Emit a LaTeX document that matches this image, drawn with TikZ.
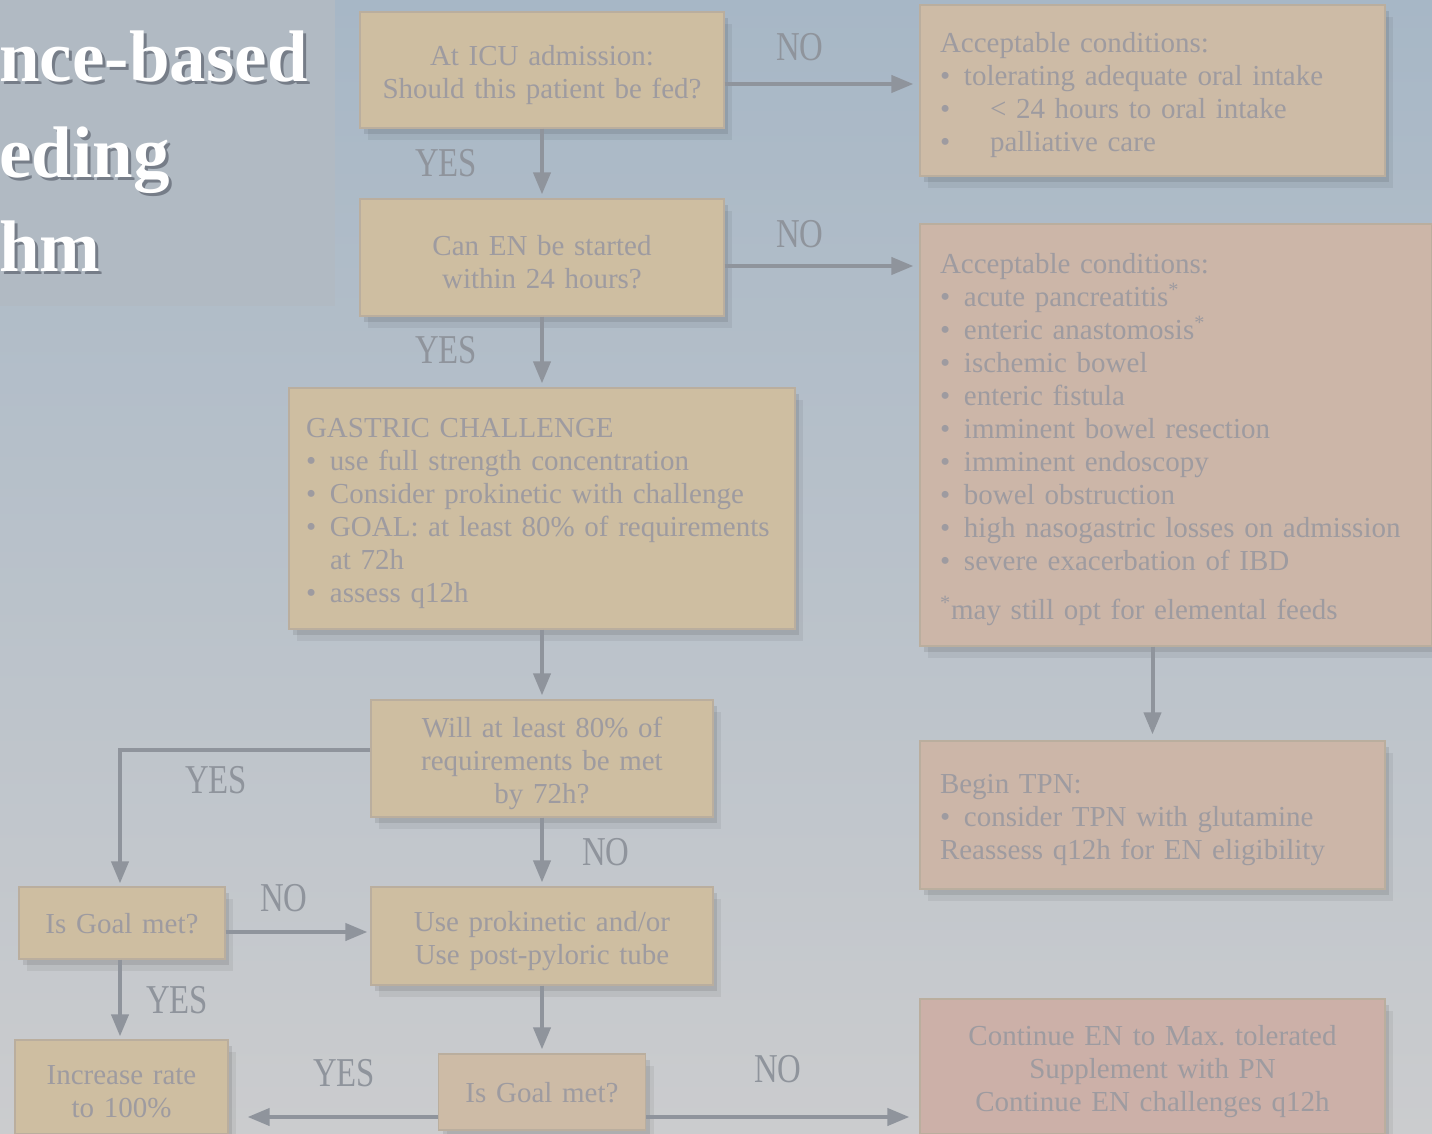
\documentclass[tikz,border=0pt]{standalone}
\usepackage{fontspec}
\setmainfont{Liberation Serif}
\usetikzlibrary{arrows.meta,positioning,calc,shadows}
\definecolor{fondoArriba}{RGB}{167,183,198}
\definecolor{fondoMedio}{RGB}{189,195,203}
\definecolor{fondoAbajo}{RGB}{203,204,206}
\definecolor{panel}{RGB}{177,186,195}
\definecolor{cajaAmarilla}{RGB}{206,190,161}
\definecolor{cajaArena}{RGB}{205,187,166}
\definecolor{cajaRosa}{RGB}{204,182,168}
\definecolor{cajaRoja}{RGB}{204,176,168}
\definecolor{borde}{RGB}{186,174,158}
\definecolor{textoCaja}{RGB}{158,155,160}
\definecolor{gris}{RGB}{143,148,156}
\definecolor{sombraTitulo}{RGB}{70,76,88}
\newcommand{\itm}{\makebox[12pt][l]{\textbullet}}
\newcommand{\lbl}[1]{\scalebox{0.8}[1]{#1}}
\tikzset{
  caja/.style={draw=borde, line width=0.6pt, fill=cajaAmarilla, text=textoCaja,
    font=\fontsize{14.5}{16.5}\selectfont, inner xsep=10pt, inner ysep=0pt,
    execute at end node={\par\kern-5pt},
    drop shadow={shadow xshift=4pt, shadow yshift=-6pt, opacity=0.06, fill=black},
    drop shadow={shadow xshift=2pt, shadow yshift=-3pt, opacity=0.09, fill=black}},
  flecha/.style={draw=gris, line width=2pt, -{Triangle[length=11pt,width=8.5pt]}},
  etiqueta/.style={text=gris, font=\fontsize{20.5}{20.5}\selectfont, inner sep=0pt},
  titulo/.style={text=white, font=\fontsize{36.5}{36.5}\selectfont\bfseries, inner sep=0pt, anchor=base west}
}
\begin{document}
\begin{tikzpicture}[x=0.5pt,y=-0.5pt]
  \useasboundingbox (0,0) rectangle (1432,1134);
  \clip (0,0) rectangle (1432,1134);
  % fondo
  \shade[top color=fondoArriba, middle color=fondoMedio, bottom color=fondoAbajo]
    (0,0) rectangle (1432,1134);
  \fill[panel] (0,0) rectangle (335,306);

  % titulo
  \foreach \t/\y in {nce-based/82,eding/178,hm/272}{
    \node[titulo, text=sombraTitulo, opacity=0.55] at (2,\y+3) {\t};
    \node[titulo] at (-1,\y) {\t};
  }

  % cajas
  \node[caja, minimum width=182pt, minimum height=58pt, text width=162pt, align=center]
    (adm) at (542,70) {At ICU admission:\\Should this patient be fed?};
  \node[caja, fill=cajaArena, minimum width=232.5pt, minimum height=85.5pt, text width=212.5pt, align=left]
    (oral) at (1152.5,90.5) {Acceptable conditions:\\
      \itm tolerating adequate oral intake\\
      \itm\hspace{13pt}< 24 hours to oral intake\\
      \itm\hspace{13pt}palliative care};
  \node[caja, minimum width=182pt, minimum height=58.5pt, text width=162pt, align=center]
    (en24) at (542,257.5) {Can EN be started\\within 24 hours?};
  \node[caja, fill=cajaRosa, minimum width=256pt, minimum height=211pt, text width=236pt, align=left]
    (contra) at (1176,435) {Acceptable conditions:\\
      \itm acute pancreatitis\textsuperscript{*}\\
      \itm enteric anastomosis\textsuperscript{*}\\
      \itm ischemic bowel\\
      \itm enteric fistula\\
      \itm imminent bowel resection\\
      \itm imminent endoscopy\\
      \itm bowel obstruction\\
      \itm high nasogastric losses on admission\\
      \itm severe exacerbation of IBD\\[8pt]
      \textsuperscript{*}may still opt for elemental feeds};
  \node[caja, inner xsep=8.5pt, minimum width=253pt, minimum height=120.5pt, text width=236pt, align=left]
    (reto) at (542,508.5) {GASTRIC CHALLENGE\\
      \itm use full strength concentration\\
      \itm Consider prokinetic with challenge\\
      \itm GOAL: at least 80\% of requirements\\
      \hspace*{12pt}at 72h\\
      \itm assess q12h};
  \node[caja, minimum width=171pt, minimum height=58.5pt, text width=151pt, align=center]
    (meta) at (542,758.5) {Will at least 80\% of\\requirements be met\\by 72h?};
  \node[caja, minimum width=103pt, minimum height=36pt, text width=83pt, align=center]
    (goalA) at (122,923) {Is Goal met?};
  \node[caja, minimum width=171pt, minimum height=49pt, text width=151pt, align=center]
    (proki) at (542,936) {Use prokinetic and/or\\Use post-pyloric tube};
  \node[caja, minimum width=106.5pt, minimum height=47pt, text width=86.5pt, align=center]
    (subir) at (121.5,1087) {Increase rate\\to 100\%};
  \node[caja, fill=cajaArena, minimum width=103.5pt, minimum height=38pt, text width=83.5pt, align=center]
    (goalB) at (542,1092) {Is Goal met?};
  \node[caja, fill=cajaRosa, minimum width=232.5pt, minimum height=74pt, text width=212.5pt, align=left]
    (tpn) at (1152.5,815) {Begin TPN:\\
      \itm consider TPN with glutamine\\
      Reassess q12h for EN eligibility};
  \node[caja, fill=cajaRoja, minimum width=232.5pt, minimum height=67.5pt, text width=212.5pt, align=center]
    (suple) at (1152.5,1066.5) {Continue EN to Max.\ tolerated\\Supplement with PN\\Continue EN challenges q12h};

  % flechas
  \draw[flecha, shorten >=3pt] ([yshift=-7pt]adm.east) -- ([yshift=-7pt]adm.east -| oral.west);
  \draw[flecha, shorten >=2pt] (adm) -- (en24);
  \draw[flecha, shorten >=3pt] ([yshift=-4.25pt]en24.east) -- ([yshift=-4.25pt]en24.east -| contra.west);
  \draw[flecha, shorten >=2pt] (en24) -- (reto);
  \draw[flecha, shorten >=2pt] (reto) -- (meta);
  \draw[flecha, shorten >=3pt] (tpn.north |- contra.south) -- (tpn.north);
  \draw[flecha, shorten >=1.5pt] ([yshift=4.25pt]meta.west) -| ([xshift=-1pt]goalA.north);
  \draw[flecha, shorten >=2pt] (meta) -- (proki);
  \draw[flecha, shorten >=1.5pt] ([yshift=-4.5pt]goalA.east) -- ([yshift=-4.5pt]goalA.east -| proki.west);
  \draw[flecha, shorten >=1.5pt] ([xshift=-1pt]goalA.south) -- ([xshift=-1pt]goalA.south |- subir.north);
  \draw[flecha, shorten >=2pt] (proki) -- (goalB);
  \draw[flecha, shorten >=9.5pt] ([yshift=-12.5pt]goalB.west) -- ([yshift=-12.5pt]goalB.west -| subir.east);
  \draw[flecha, shorten >=5pt] ([yshift=-12.5pt]goalB.east) -- ([yshift=-12.5pt]goalB.east -| suple.west);

  % etiquetas
  \node[etiqueta] (noA) at (800,47) {\lbl{NO}};
  \node[etiqueta] (siA) at (446,163) {\lbl{YES}};
  \node[etiqueta] (noB) at (800,234) {\lbl{NO}};
  \node[etiqueta] (siB) at (446,350) {\lbl{YES}};
  \node[etiqueta] (siC) at (216,780) {\lbl{YES}};
  \node[etiqueta] (noC) at (606,852) {\lbl{NO}};
  \node[etiqueta] (noD) at (284,898) {\lbl{NO}};
  \node[etiqueta] (siD) at (177,1000) {\lbl{YES}};
  \node[etiqueta] (siE) at (344,1073) {\lbl{YES}};
  \node[etiqueta] (noE) at (778,1069) {\lbl{NO}};
\end{tikzpicture}
\end{document}
